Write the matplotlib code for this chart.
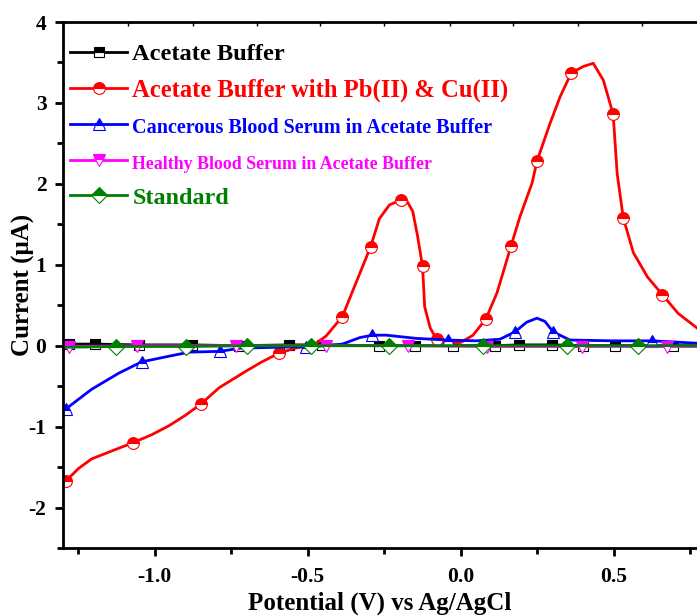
import numpy as np
import matplotlib
matplotlib.use("Agg")
import matplotlib.pyplot as plt

plt.rcParams['font.family'] = ['Liberation Serif', 'DejaVu Serif']
plt.rcParams['font.weight'] = 'bold'

# Acetate buffer (flat baseline)
buf_x = [-1.30, -1.282, -1.197, -1.052, -0.879, -0.725, -0.561, -0.452, -0.266,
         -0.151, -0.026, 0.111, 0.19, 0.298, 0.40, 0.505, 0.695, 0.775]
buf_y = [0.02, 0.02, 0.02, 0.01, 0.01, 0.0, 0.01, 0.01, 0.0,
         0.0, 0.0, 0.0, 0.01, 0.01, 0.0, 0.0, 0.0, 0.0]
buf_marks = list(range(1, 17))

# Acetate buffer with Pb(II) & Cu(II)
pb_x = [-1.29, -1.25, -1.207, -1.14, -1.072, -1.01, -0.954, -0.90, -0.849, -0.79,
        -0.70, -0.65, -0.593, -0.54, -0.48, -0.44, -0.387, -0.34, -0.295, -0.266,
        -0.233, -0.197, -0.175, -0.157, -0.141, -0.125, -0.118, -0.10, -0.079, -0.05,
        0.0, 0.04, 0.082, 0.118, 0.138, 0.164, 0.193, 0.233, 0.249, 0.292,
        0.325, 0.361, 0.40, 0.433, 0.466, 0.498, 0.511, 0.531, 0.564, 0.61,
        0.659, 0.71, 0.775]
pb_y = [-1.67, -1.52, -1.40, -1.30, -1.20, -1.10, -0.99, -0.86, -0.72, -0.52,
        -0.31, -0.20, -0.09, -0.03, 0.01, 0.12, 0.36, 0.80, 1.22, 1.57,
        1.74, 1.80, 1.78, 1.66, 1.35, 0.98, 0.48, 0.22, 0.08, 0.03,
        0.04, 0.13, 0.33, 0.65, 0.90, 1.23, 1.59, 2.01, 2.28, 2.75,
        3.08, 3.37, 3.45, 3.49, 3.28, 2.86, 2.13, 1.58, 1.15, 0.85,
        0.63, 0.40, 0.21]
pb_marks = [0, 4, 8, 12, 16, 18, 21, 25, 28, 32, 35, 38, 41, 45, 47, 50]

# Cancerous blood serum in acetate buffer
can_x = [-1.29, -1.207, -1.118, -1.043, -0.954, -0.888, -0.787, -0.72, -0.60, -0.505,
         -0.44, -0.387, -0.33, -0.289, -0.243, -0.145, -0.043, 0.05, 0.128, 0.177,
         0.215, 0.249, 0.275, 0.302, 0.357, 0.50, 0.626, 0.775]
can_y = [-0.78, -0.54, -0.34, -0.20, -0.13, -0.08, -0.07, -0.03, -0.02, -0.01,
         0.0, 0.02, 0.10, 0.13, 0.13, 0.09, 0.07, 0.06, 0.08, 0.17,
         0.29, 0.34, 0.30, 0.17, 0.07, 0.06, 0.06, 0.03]
can_marks = [0, 3, 6, 9, 13, 16, 19, 23, 26]

# Healthy blood serum in acetate buffer
hea_x = [-1.30, -1.282, -1.059, -0.734, -0.439, -0.174, 0.085, 0.397, 0.675, 0.775]
hea_y = [-0.02, -0.01, 0.0, 0.0, 0.0, 0.0, -0.01, -0.01, -0.01, -0.01]
hea_marks = list(range(1, 9))

# Standard
std_x = [-1.30, -1.128, -0.898, -0.698, -0.489, -0.233, 0.072, 0.348, 0.580, 0.775]
std_y = [-0.02, -0.01, -0.01, 0.0, 0.0, 0.0, 0.0, 0.0, 0.0, 0.0]
std_marks = list(range(1, 9))

labels = ["Acetate Buffer", "Acetate Buffer with Pb(II) & Cu(II)",
          "Cancerous Blood Serum in Acetate Buffer",
          "Healthy Blood Serum in Acetate Buffer", "Standard"]
colors = ["black", "red", "blue", "magenta", "green"]
markers = ["s", "o", "^", "v", "D"]
msizes = [7, 8.5, 8.5, 8.5, 8]
label_sizes = [17.6, 17.7, 14.5, 12.9, 17.4]

series = [(buf_x, buf_y, buf_marks), (pb_x, pb_y, pb_marks), (can_x, can_y, can_marks),
          (hea_x, hea_y, hea_marks), (std_x, std_y, std_marks)]

fig = plt.figure(figsize=(6.97, 6.16), dpi=100)
ax = fig.add_axes([63 / 697, 68 / 616, 634 / 697, 526 / 616])

for (x, y, mk), lab, c, m, ms in zip(series, labels, colors, markers, msizes):
    ax.plot(x, y, color=c, lw=2, marker=m, markevery=mk, ms=ms,
            fillstyle='top', markerfacecolor=c, markerfacecoloralt='white',
            markeredgecolor=c, markeredgewidth=0.8, label=lab)

ax.set_xlim(-1.30, 0.772)
ax.set_ylim(-2.5, 4)
ax.set_xticks([-1.0, -0.5, 0.0, 0.5])
ax.set_xticklabels(["-1.0", "-0.5", "0.0", "0.5"])
ax.set_xticks([-1.25, -0.75, -0.25, 0.25, 0.75], minor=True)
ax.set_yticks([-2, -1, 0, 1, 2, 3, 4])
ax.set_yticklabels(["-2", "-1", "0", "1", "2", "3", "4"])
ax.set_yticks(np.arange(-2.5, 4.0, 0.5), minor=True)

ax.tick_params(which='major', length=6, width=2, labelsize=15.5, direction='out')
ax.tick_params(which='minor', length=4, width=2, direction='out')
ax.tick_params(axis='x', which='major', pad=8)
ax.tick_params(axis='y', which='major', pad=6)
for s in ['left', 'bottom', 'top']:
    ax.spines[s].set_linewidth(2)
ax.spines['right'].set_visible(False)

top = ax.secondary_xaxis('top')
top.set_xticks([-1.088, -0.876, -0.667, -0.461, -0.252, -0.036, 0.170, 0.382, 0.592])
top.tick_params(direction='in', length=3, width=1, labeltop=False)

ax.set_xlabel("Potential (V) vs Ag/AgCl", fontsize=18, fontweight='bold', labelpad=3)
ax.set_ylabel("Current (μA)", fontsize=18, fontweight='bold')
ax.yaxis.set_label_coords(-28 / 634, 0.5)

leg = ax.legend(loc='upper left', bbox_to_anchor=(7 / 634, 1 - 21 / 526),
                frameon=False, fontsize=17.6, handlelength=2.35,
                handletextpad=0.2, labelspacing=0.56, borderaxespad=0,
                borderpad=0)
for t, c, fs in zip(leg.get_texts(), colors, label_sizes):
    t.set_color(c)
    t.set_fontsize(fs)
    t.set_fontweight('bold')

fig.savefig("out.png", dpi=100)
